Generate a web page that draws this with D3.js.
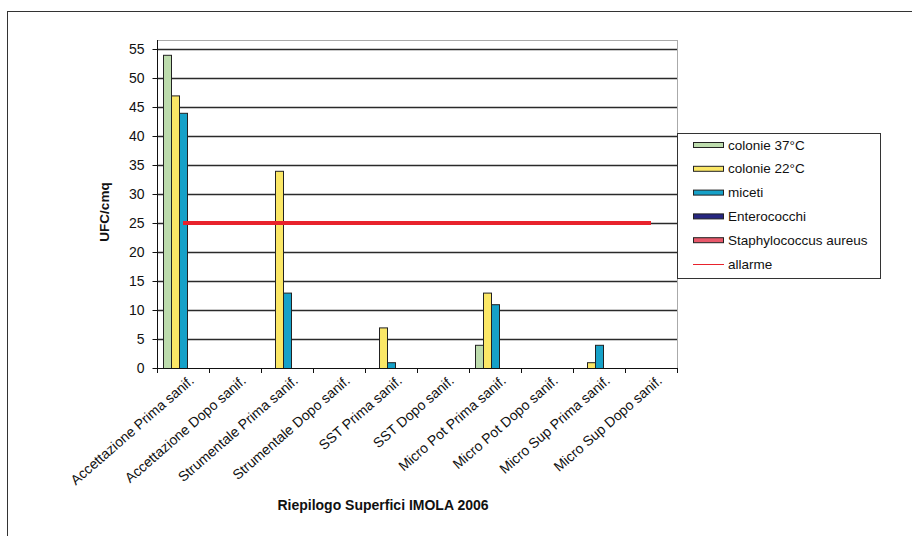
<!DOCTYPE html>
<html>
<head>
<meta charset="utf-8">
<script src="https://cdn.jsdelivr.net/npm/d3@7"></script>
<style>
  html, body { margin: 0; padding: 0; background: #fff; }
  svg { display: block; }
  text { font-family: "Liberation Sans", Arial, sans-serif; fill: #111; }
</style>
</head>
<body>
<svg id="chart" width="912" height="536"></svg>
<script>
// Sampling points (surfaces before / after sanitation)
const categories = [
  "Accettazione Prima sanif.", "Accettazione Dopo sanif.",
  "Strumentale Prima sanif.", "Strumentale Dopo sanif.",
  "SST Prima sanif.", "SST Dopo sanif.",
  "Micro Pot Prima sanif.", "Micro Pot Dopo sanif.",
  "Micro Sup Prima sanif.", "Micro Sup Dopo sanif."
];

// UFC/cmq per series
const colonie37    = [54, 0, 0, 0, 0, 0, 4, 0, 0, 0];
const colonie22    = [47, 0, 34, 0, 7, 0, 13, 0, 1, 0];
const miceti       = [44, 0, 13, 0, 1, 0, 11, 0, 4, 0];
const enterococchi = [0, 0, 0, 0, 0, 0, 0, 0, 0, 0];
const staphylococcus = [0, 0, 0, 0, 0, 0, 0, 0, 0, 0];
const allarme      = [25, 25, 25, 25, 25, 25, 25, 25, 25, 25];

const seriesNames  = ["colonie 37°C", "colonie 22°C", "miceti", "Enterococchi", "Staphylococcus aureus"];
const seriesValues = [colonie37, colonie22, miceti, enterococchi, staphylococcus];
const seriesColors = ["#bddcad", "#fbe766", "#16a1c8", "#262680", "#e8586a"];
const alarmName = "allarme";
const alarmColor = "#e8222c";

const yTicks = [0, 5, 10, 15, 20, 25, 30, 35, 40, 45, 50, 55];
const xTitle = "Riepilogo Superfici IMOLA 2006";
const yTitle = "UFC/cmq";

const svg = d3.select("#chart");

// outer frame of the chart object
svg.append("rect")
  .attr("x", 7.5).attr("y", 11.5)
  .attr("width", 920).attr("height", 540)
  .attr("fill", "#fff").attr("stroke", "#333").attr("stroke-width", 1);

const plot = { left: 157, right: 677, top: 40, bottom: 368 };

const x = d3.scaleBand().domain(categories).range([plot.left, plot.right]).paddingInner(0).paddingOuter(0);
const xs = d3.scaleBand().domain(seriesNames).range([0, x.bandwidth()]).paddingInner(0).paddingOuter(0.75);
const y = d3.scaleLinear().domain([0, 55]).range([plot.bottom, 49]);

// plot area
svg.append("rect")
  .attr("x", plot.left + 0.5).attr("y", plot.top + 0.5)
  .attr("width", plot.right - plot.left).attr("height", plot.bottom - plot.top)
  .attr("fill", "#fff").attr("stroke", "#aaa");

// horizontal gridlines
svg.append("g").selectAll("line")
  .data(yTicks.filter(d => d > 0))
  .join("line")
  .attr("x1", plot.left).attr("x2", plot.right)
  .attr("y1", d => Math.round(y(d)) + 0.5).attr("y2", d => Math.round(y(d)) + 0.5)
  .attr("stroke", "#2a2a2a").attr("stroke-width", 1.3);

// bars
const bars = [];
seriesValues.forEach((vals, si) => {
  vals.forEach((v, ci) => {
    if (v > 0) bars.push({ s: seriesNames[si], c: categories[ci], v: v, color: seriesColors[si] });
  });
});
svg.append("g").selectAll("rect")
  .data(bars)
  .join("rect")
  .attr("x", d => x(d.c) + xs(d.s) + 0.5)
  .attr("y", d => y(d.v) + 0.5)
  .attr("width", xs.bandwidth())
  .attr("height", d => y(0) - y(d.v))
  .attr("fill", d => d.color)
  .attr("stroke", "#222").attr("stroke-width", 1);

// alarm threshold line
const line = d3.line()
  .x((d, i) => x(categories[i]) + x.bandwidth() / 2)
  .y(d => y(d));
svg.append("path")
  .datum(allarme)
  .attr("d", line)
  .attr("fill", "none")
  .attr("stroke", alarmColor)
  .attr("stroke-width", 4);

// y axis
const yAxis = d3.axisLeft(y).tickValues(yTicks).tickSize(5).tickPadding(8).tickSizeOuter(0);
const gy = svg.append("g").attr("transform", `translate(${plot.left + 0.5},0)`).call(yAxis);
gy.select(".domain").remove();
gy.selectAll(".tick line").attr("stroke", "#111");
gy.selectAll(".tick text")
  .attr("font-size", 14).attr("font-family", "Liberation Sans, Arial, sans-serif").attr("fill", "#222");
svg.append("line")
  .attr("x1", plot.left + 0.5).attr("x2", plot.left + 0.5)
  .attr("y1", plot.top).attr("y2", plot.bottom)
  .attr("stroke", "#111");

// x axis
svg.append("line")
  .attr("x1", plot.left).attr("x2", plot.right + 1)
  .attr("y1", plot.bottom + 0.5).attr("y2", plot.bottom + 0.5)
  .attr("stroke", "#111");
const boundaries = categories.map(c => x(c)).concat([plot.right]);
svg.append("g").selectAll("line")
  .data(boundaries)
  .join("line")
  .attr("x1", d => Math.round(d) + 0.5).attr("x2", d => Math.round(d) + 0.5)
  .attr("y1", plot.bottom).attr("y2", plot.bottom + 5)
  .attr("stroke", "#111");

svg.append("g").selectAll("text")
  .data(categories)
  .join("text")
  .attr("transform", d => `translate(${x(d) + x.bandwidth() / 2 + 12},${plot.bottom + 14}) rotate(-41)`)
  .attr("text-anchor", "end")
  .attr("font-size", 14)
  .attr("fill", "#222")
  .text(d => d);

// axis titles
svg.append("text")
  .attr("x", 383).attr("y", 510)
  .attr("text-anchor", "middle")
  .attr("font-size", 14).attr("font-weight", "bold").attr("fill", "#222")
  .text(xTitle);
svg.append("text")
  .attr("transform", `translate(109,212) rotate(-90)`)
  .attr("text-anchor", "middle")
  .attr("font-size", 13.5).attr("font-weight", "bold").attr("fill", "#222")
  .text(yTitle);

// legend
const legend = svg.append("g").attr("transform", "translate(677,133)");
legend.append("rect")
  .attr("x", 0.5).attr("y", 0.5).attr("width", 203).attr("height", 145)
  .attr("fill", "#fff").attr("stroke", "#333");
const legendItems = seriesNames.map((n, i) => ({ name: n, color: seriesColors[i], type: "bar" }))
  .concat([{ name: alarmName, color: alarmColor, type: "line" }]);
const rowY = d3.scalePoint().domain(legendItems.map(d => d.name)).range([12, 131]);
const li = legend.selectAll("g.item").data(legendItems).join("g")
  .attr("class", "item")
  .attr("transform", d => `translate(0,${rowY(d.name)})`);
li.filter(d => d.type === "bar").append("rect")
  .attr("x", 16.5).attr("y", -2.5).attr("width", 30).attr("height", 5)
  .attr("fill", d => d.color).attr("stroke", "#222");
li.filter(d => d.type === "line").append("line")
  .attr("x1", 16).attr("x2", 47).attr("y1", 0.5).attr("y2", 0.5)
  .attr("stroke", d => d.color).attr("stroke-width", 1);
li.append("text")
  .attr("x", 51).attr("y", 4.5)
  .attr("font-size", 13.5).attr("fill", "#222")
  .text(d => d.name);
</script>
</body>
</html>
